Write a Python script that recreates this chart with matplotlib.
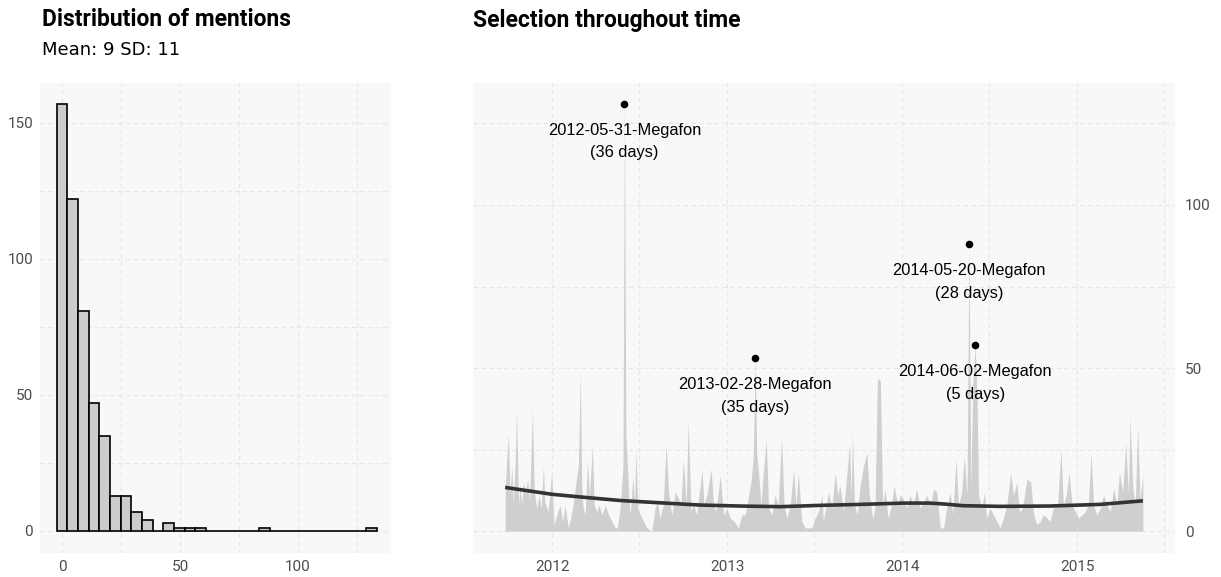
import numpy as np
import pandas as pd
import matplotlib
matplotlib.use("Agg")
import matplotlib.pyplot as plt
import matplotlib.dates as mdates
from matplotlib.ticker import MultipleLocator

# --- left panel: histogram of mentions per day (30 bins over 0..131) ---
hist_max = 131
hist_counts = [157, 122, 81, 47, 35, 13, 13, 7, 4, 0, 3, 1, 1, 1, 0,
               0, 0, 0, 0, 1, 0, 0, 0, 0, 0, 0, 0, 0, 0, 1]
mean_txt = "Mean: 9 SD: 11"

# --- right panel: mentions through time (days since first mention) ---
start = "2011-09-25"
days = [0, 3, 7, 10, 14, 17, 21, 24, 28, 31, 35, 38, 43, 47, 51, 57, 61, 66, 71, 75,
        80, 83, 90, 97, 102, 108, 115, 120, 125, 132, 137, 143, 148, 153, 157, 160, 163, 167, 172, 176,
        182, 186, 191, 196, 202, 209, 216, 223, 230, 234, 240, 246, 249, 252, 258, 261, 267, 270, 273, 277,
        282, 289, 296, 306, 313, 318, 323, 330, 336, 341, 348, 355, 362, 367, 372, 378, 382, 388, 393, 400,
        411, 415, 421, 430, 435, 440, 449, 456, 463, 470, 478, 487, 494, 501, 506, 513, 518, 522, 525, 530,
        534, 539, 545, 550, 557, 563, 570, 577, 582, 588, 595, 602, 607, 612, 619, 626, 633, 640, 647, 654,
        661, 664, 675, 682, 689, 694, 699, 706, 713, 719, 722, 725, 729, 735, 741, 748, 755, 760, 767, 772,
        777, 783, 788, 793, 799, 805, 812, 819, 824, 831, 838, 845, 852, 859, 866, 873, 880, 888, 894, 901,
        908, 915, 920, 929, 934, 941, 946, 953, 958, 964, 968, 972, 976, 981, 985, 988, 995, 1000, 1005, 1012,
        1019, 1026, 1033, 1040, 1047, 1055, 1061, 1068, 1073, 1080, 1089, 1097, 1103, 1110, 1117, 1123, 1131, 1137, 1144, 1153,
        1160, 1165, 1171, 1177, 1183, 1190, 1197, 1204, 1211, 1217, 1223, 1228, 1235, 1242, 1249, 1256, 1263, 1270, 1277, 1282,
        1289, 1295, 1301, 1304, 1310, 1315, 1320, 1325, 1331]
mentions = [10, 21, 30, 11, 20, 8, 21, 37, 8, 14, 8, 15, 12, 16, 9, 37, 12, 7, 11, 7,
            20, 9, 6, 18, 2, 5, 8, 3, 8, 1, 4, 9, 15, 20, 49, 13, 7, 5, 21, 11,
            26, 8, 6, 8, 5, 8, 5, 3, 1, 1, 7, 20, 131, 30, 11, 5, 17, 8, 25, 7,
            5, 3, 1, 0, 7, 9, 4, 8, 27, 12, 5, 12, 10, 8, 22, 8, 34, 6, 8, 5,
            19, 8, 11, 19, 8, 6, 17, 5, 7, 4, 3, 1, 5, 5, 9, 15, 23, 53, 24, 16,
            8, 18, 28, 7, 5, 11, 8, 29, 8, 4, 8, 19, 8, 18, 3, 1, 1, 1, 4, 6,
            11, 3, 12, 7, 18, 11, 14, 6, 17, 27, 11, 30, 8, 5, 14, 20, 24, 11, 4, 7,
            47, 46, 8, 13, 4, 7, 14, 8, 11, 10, 7, 11, 8, 13, 7, 9, 11, 8, 13, 12,
            1, 1, 6, 12, 5, 22, 8, 12, 23, 11, 88, 13, 45, 57, 40, 11, 7, 12, 4, 7,
            5, 3, 1, 4, 8, 18, 11, 15, 6, 7, 16, 15, 5, 2, 3, 5, 4, 3, 7, 8,
            25, 8, 11, 18, 8, 6, 4, 5, 6, 8, 24, 8, 5, 7, 11, 8, 6, 13, 8, 18,
            12, 27, 11, 35, 13, 8, 32, 10, 17]

# smoothed trend (loess)
smooth_days = [0, 98, 163, 240, 334, 407, 490, 574, 657, 741, 831, 887, 918, 956, 1033, 1137, 1242, 1331]
smooth_vals = [13.4, 11.3, 10.4, 9.4, 8.6, 8.0, 7.7, 7.5, 7.9, 8.2, 8.6, 8.6, 8.3, 7.8, 7.6, 7.7, 8.2, 9.3]

# highlighted selections
event_dates = ["2012-05-31", "2013-02-28", "2014-05-20", "2014-06-02"]
event_names = ["Megafon", "Megafon", "Megafon", "Megafon"]
event_len = [36, 35, 28, 5]

t0 = pd.Timestamp(start)
series = pd.Series(mentions, index=t0 + pd.to_timedelta(days, unit="D"))
smooth_idx = t0 + pd.to_timedelta(smooth_days, unit="D")

# --- style ---
plt.rcParams["font.family"] = ["Roboto", "DejaVu Sans"]
bg = "#f8f8f8"
grid_col = "#e6e6e6"
tick_col = "#4d4d4d"

fig = plt.figure(figsize=(12.21, 5.77), dpi=100)
ax1 = fig.add_axes([40 / 1221, 24 / 577, 351 / 1221, 470 / 577])
ax2 = fig.add_axes([473 / 1221, 24 / 577, 702 / 1221, 470 / 577])

for ax in (ax1, ax2):
    ax.set_facecolor(bg)
    for sp in ax.spines.values():
        sp.set_visible(False)
    ax.grid(True, which="both", color=grid_col, linestyle=(0, (4, 3)), linewidth=0.8)
    ax.set_axisbelow(True)
    ax.tick_params(which="both", length=0, labelsize=11, colors=tick_col)

# histogram
bw = hist_max / (len(hist_counts) - 1)
centers = np.arange(len(hist_counts)) * bw
ax1.bar(centers, hist_counts, width=bw, color="#cccccc", edgecolor="black", linewidth=1.2)
ax1.set_xlim(-9.3, 139.4)
ax1.set_ylim(-8.1, 164.7)
ax1.xaxis.set_major_locator(MultipleLocator(50))
ax1.xaxis.set_minor_locator(MultipleLocator(25))
ax1.yaxis.set_major_locator(MultipleLocator(50))
ax1.yaxis.set_minor_locator(MultipleLocator(25))
ax1.tick_params(axis="y", pad=5)
ax1.tick_params(axis="x", pad=5)

# time series
ax2.fill_between(series.index, 0, series.values, color="#cfcfcf", linewidth=0)
ax2.plot(smooth_idx, smooth_vals, color="#333333", linewidth=2.6, solid_capstyle="butt")

ev_idx = pd.to_datetime(event_dates)
ev_vals = series.loc[ev_idx].values
ax2.scatter(ev_idx, ev_vals, s=20, color="black", zorder=5)
for d, v, name, n in zip(ev_idx, ev_vals, event_names, event_len):
    ax2.annotate(f"{d:%Y-%m-%d}-{name}\n({n} days)", xy=(d, v), xytext=(0, -19),
                 textcoords="offset pixels", ha="center", va="top", linespacing=1.62,
                 fontsize=11.8, family=["Liberation Sans", "DejaVu Sans"], color="black")

ax2.set_xlim(t0 - pd.Timedelta(days=67), t0 + pd.Timedelta(days=1398))
ax2.set_ylim(-6.7, 137.4)
ax2.xaxis.set_major_locator(mdates.YearLocator())
ax2.xaxis.set_major_formatter(mdates.DateFormatter("%Y"))
ax2.xaxis.set_minor_locator(mdates.MonthLocator(bymonth=7))
ax2.yaxis.set_major_locator(MultipleLocator(50))
ax2.yaxis.set_minor_locator(MultipleLocator(25))
ax2.yaxis.tick_right()
ax2.tick_params(axis="y", pad=7)
ax2.tick_params(axis="x", pad=5)

# titles
fig.text(42 / 1221, 1 - 20 / 577, "Distribution of mentions", fontsize=16.5, fontweight="bold",
         va="center", ha="left")
fig.text(42 / 1221, 1 - 50 / 577, mean_txt, fontsize=13, family="DejaVu Sans",
         va="center", ha="left")
fig.text(473 / 1221, 1 - 20 / 577, "Selection throughout time", fontsize=16.5, fontweight="bold",
         va="center", ha="left")

fig.savefig("out.png", dpi=100, facecolor="white")
